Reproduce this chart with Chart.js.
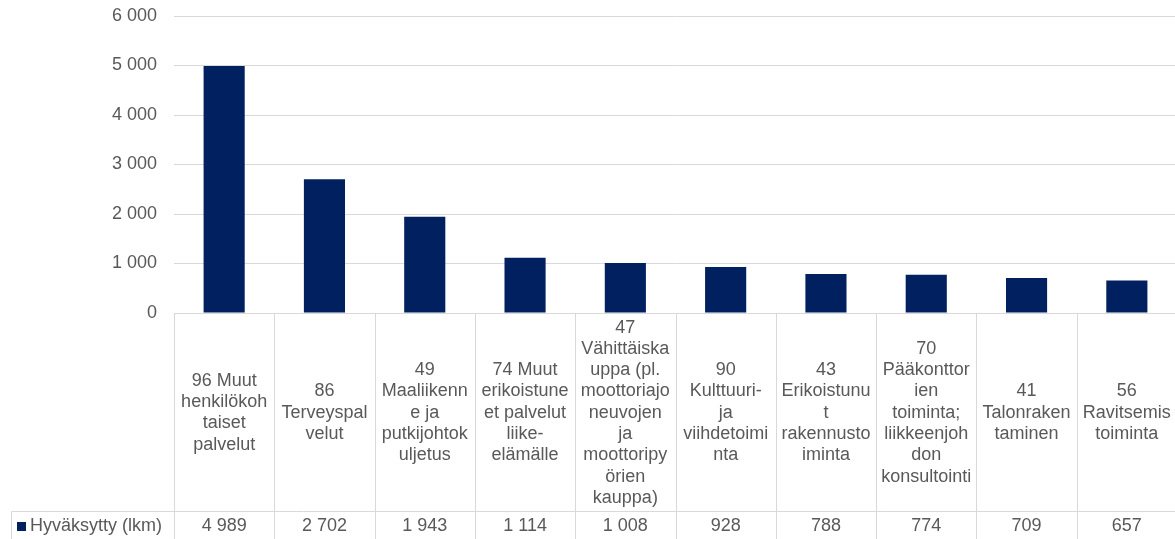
<!DOCTYPE html>
<html>
<head>
<meta charset="utf-8">
<script src="https://cdn.jsdelivr.net/npm/chart.js@4"></script>
<style>
html,body{margin:0;padding:0;background:#fff;overflow:hidden;}
canvas{display:block;}
</style>
</head>
<body>
<canvas id="c" width="1178" height="539"></canvas>
<script>
// ---- data ----
const categories = [
  ["96 Muut","henkilökoh","taiset","palvelut"],
  ["86","Terveyspal","velut"],
  ["49","Maaliikenn","e ja","putkijohtok","uljetus"],
  ["74 Muut","erikoistune","et palvelut","liike-","elämälle"],
  ["47","Vähittäiska","uppa (pl.","moottoriajo","neuvojen","ja","moottoripy","örien","kauppa)"],
  ["90","Kulttuuri-","ja","viihdetoimi","nta"],
  ["43","Erikoistunu","t","rakennusto","iminta"],
  ["70","Pääkonttor","ien","toiminta;","liikkeenjoh","don","konsultointi"],
  ["41","Talonraken","taminen"],
  ["56","Ravitsemis","toiminta"]
];
const seriesName = "Hyväksytty (lkm)";
const approved = [4989, 2702, 1943, 1114, 1008, 928, 788, 774, 709, 657];
const yTicks = [0, 1000, 2000, 3000, 4000, 5000, 6000];

// ---- styles ----
const BAR = '#002060';
const GRID = '#d9d9d9';
const TEXT = '#595959';
const FONT = "'Liberation Sans', Arial, sans-serif";
const FS = 18;

function fmt(v){ return String(v).replace(/\B(?=(\d{3})+(?!\d))/g, '\u00a0'); }

const tablePlugin = {
  id: 'dataTable',
  afterDraw(chart){
    const ctx = chart.ctx, xs = chart.scales.x, area = chart.chartArea;
    const n = categories.length;
    const half = (xs.getPixelForValue(1) - xs.getPixelForValue(0)) / 2;
    const top = area.bottom;
    const rowY = top + 198.5;
    const bottom = chart.height + 2;
    const legendLeft = 11.5;
    ctx.save();
    ctx.strokeStyle = GRID;
    ctx.lineWidth = 1;
    ctx.beginPath();
    for (let i = 0; i <= n; i++){
      const x = Math.round(i < n ? xs.getPixelForValue(i) - half : xs.getPixelForValue(n-1) + half) + 0.5;
      ctx.moveTo(x, top); ctx.lineTo(x, bottom);
    }
    ctx.moveTo(legendLeft, rowY); ctx.lineTo(area.right + 2, rowY);
    ctx.moveTo(legendLeft, rowY); ctx.lineTo(legendLeft, bottom);
    ctx.stroke();

    ctx.fillStyle = TEXT;
    ctx.font = FS + 'px ' + FONT;
    ctx.textAlign = 'center';
    ctx.textBaseline = 'middle';
    const lh = 21.3;
    const cellMid = (top + rowY) / 2 + 0.5;
    categories.forEach((lines, i) => {
      const cx = xs.getPixelForValue(i);
      const y0 = cellMid - (lines.length - 1) * lh / 2;
      lines.forEach((t, k) => ctx.fillText(t, cx, y0 + k * lh));
    });
    const valY = rowY + 15;
    approved.forEach((v, i) => ctx.fillText(fmt(v), xs.getPixelForValue(i), valY));

    // legend cell
    ctx.fillStyle = BAR;
    ctx.fillRect(17, valY - 4.5, 9, 9);
    ctx.fillStyle = TEXT;
    ctx.textAlign = 'left';
    ctx.fillText(seriesName, 30, valY);
    ctx.restore();
  }
};

new Chart(document.getElementById('c'), {
  type: 'bar',
  data: {
    labels: categories.map(l => l.join(' ')),
    datasets: [{
      label: seriesName,
      data: approved,
      backgroundColor: BAR,
      borderWidth: 0,
      categoryPercentage: 1,
      barPercentage: 0.41
    }]
  },
  options: {
    responsive: false,
    animation: false,
    devicePixelRatio: 1,
    layout: { padding: { top: 16, right: 1, left: 0, bottom: 0 } },
    plugins: { legend: { display: false }, tooltip: { enabled: false } },
    scales: {
      x: {
        grid: { display: false },
        border: { display: false },
        ticks: { display: false },
        afterFit(s){ s.height = 226; }
      },
      y: {
        min: 0, max: 6000,
        afterBuildTicks(s){ s.ticks = yTicks.map(v => ({ value: v })); },
        grid: { color: GRID, lineWidth: 1, drawTicks: false },
        border: { display: false },
        ticks: {
          padding: 17,
          color: TEXT,
          font: { family: FONT, size: FS },
          callback: v => fmt(v)
        },
        afterFit(s){ s.width = 174; s.paddingTop = 0; s.paddingBottom = 0; }
      }
    }
  },
  plugins: [tablePlugin]
});
</script>
</body>
</html>
